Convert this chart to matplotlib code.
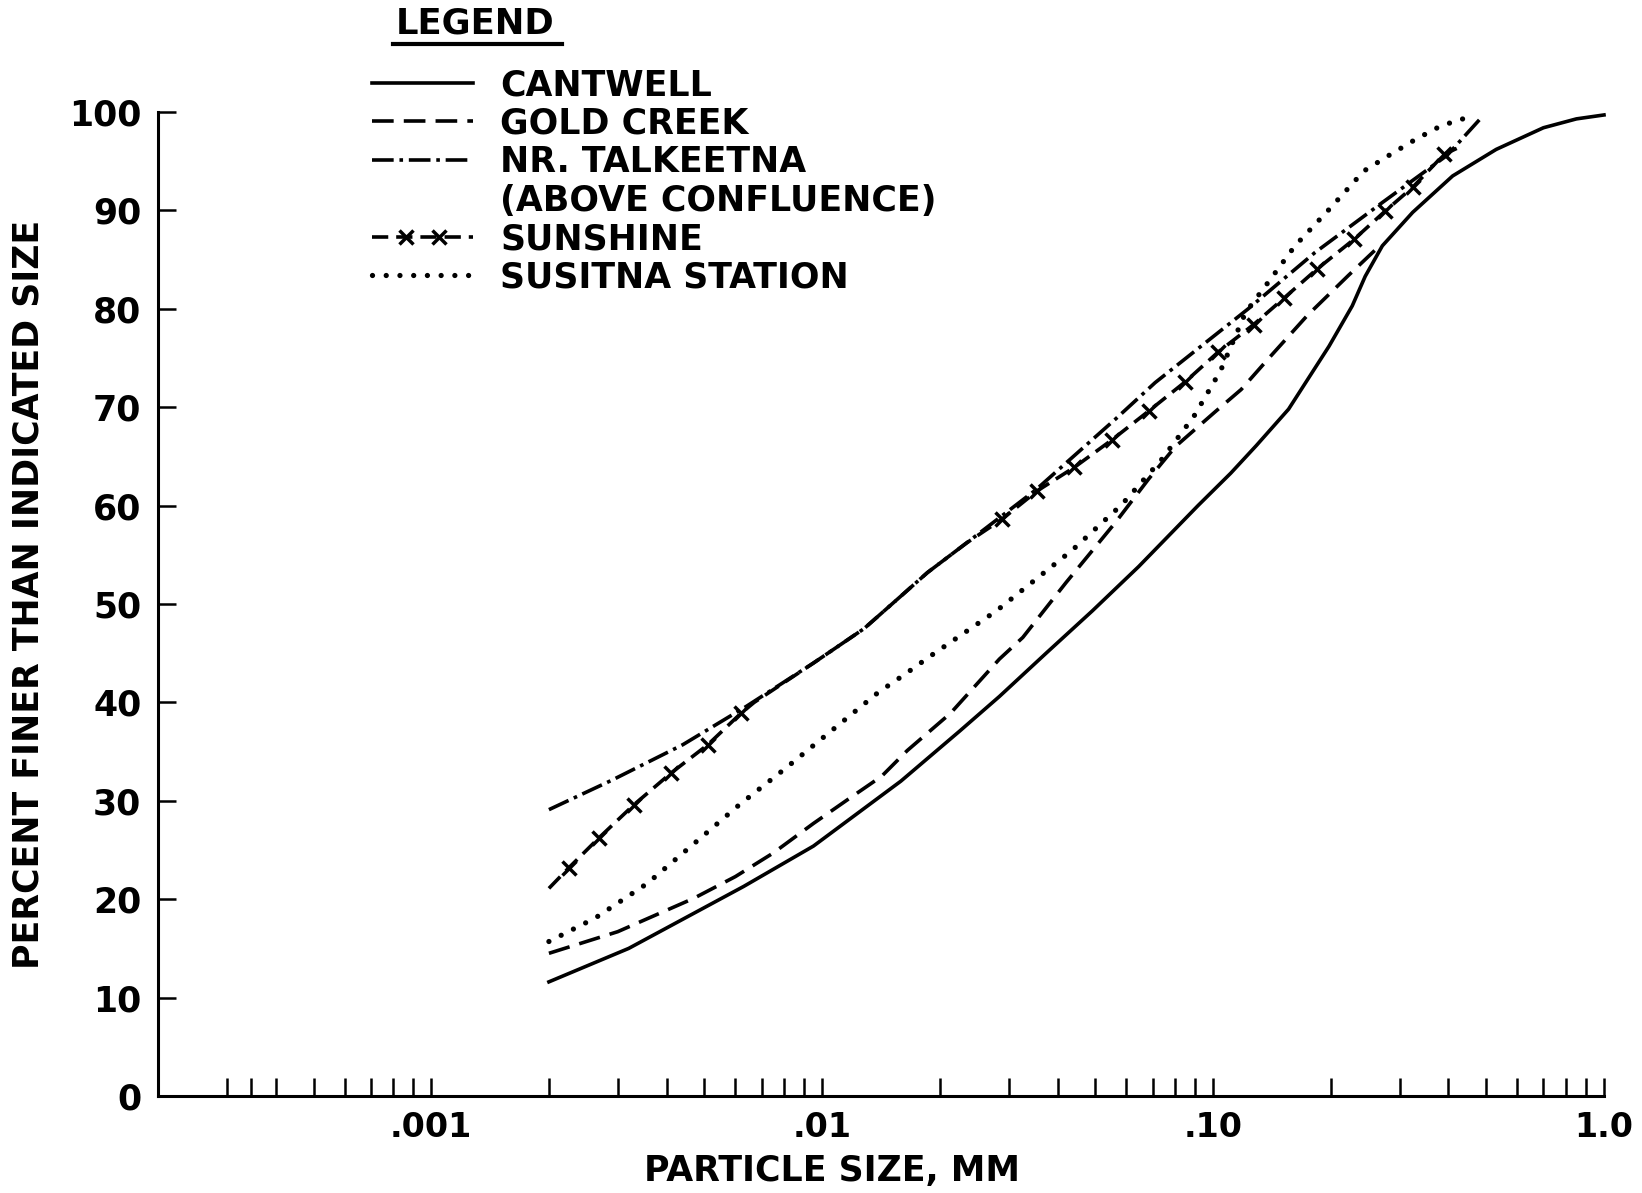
import matplotlib
matplotlib.use("Agg")
import numpy as np
import matplotlib.pyplot as plt
from matplotlib.lines import Line2D
from matplotlib.legend_handler import HandlerLine2D
from matplotlib.ticker import NullFormatter

# Particle size (mm) vs percent finer
cantwell_x = [0.002, 0.0032, 0.0063, 0.0095, 0.0159, 0.0225, 0.0284, 0.0374, 0.0491, 0.0645,
              0.0915, 0.111, 0.129, 0.156, 0.198, 0.227, 0.245, 0.271, 0.324, 0.41,
              0.53, 0.70, 0.85, 1.0]
cantwell_y = [11.6, 15.0, 21.3, 25.4, 32.0, 37.1, 40.6, 45.0, 49.3, 53.8,
              60.0, 63.3, 66.1, 69.8, 76.2, 80.3, 83.3, 86.4, 89.8, 93.5,
              96.2, 98.4, 99.3, 99.7]

gold_x = [0.002, 0.003, 0.0047, 0.006, 0.0075, 0.0095, 0.0116, 0.0142, 0.0165, 0.0213,
          0.0284, 0.0326, 0.0421, 0.0563, 0.0684, 0.0801, 0.101, 0.118, 0.139, 0.174,
          0.222, 0.27]
gold_y = [14.5, 16.7, 20.1, 22.3, 24.7, 27.7, 30.1, 32.5, 35.1, 38.9,
          44.4, 46.6, 52.2, 58.3, 62.7, 66.0, 69.5, 71.8, 75.0, 79.3,
          83.4, 86.6]

talk_x = [0.002, 0.0029, 0.0044, 0.0064, 0.0095, 0.0128, 0.0159, 0.0186, 0.0234, 0.0352,
          0.0472, 0.0563, 0.0711, 0.123, 0.182, 0.271, 0.397, 0.49]
talk_y = [29.1, 32.1, 35.7, 39.6, 44.0, 47.5, 50.8, 53.2, 56.2, 61.6,
          66.1, 68.8, 72.5, 80.0, 85.7, 90.8, 95.6, 99.6]

sun_x = [0.002, 0.00225, 0.00268, 0.0033, 0.0041, 0.0051, 0.0062, 0.0067, 0.0095, 0.0128,
         0.0159, 0.0186, 0.0234, 0.0288, 0.0355, 0.0442, 0.0552, 0.0684, 0.085, 0.103,
         0.127, 0.152, 0.184, 0.23, 0.275, 0.325, 0.39, 0.42]
sun_y = [21.1, 23.2, 26.2, 29.6, 32.8, 35.7, 38.9, 40.0, 44.0, 47.5,
         50.8, 53.2, 56.2, 58.6, 61.5, 63.9, 66.7, 69.6, 72.6, 75.6,
         78.4, 81.1, 84.0, 87.1, 89.9, 92.4, 95.7, 96.3]
sun_marked = [0, 1, 1, 1, 1, 1, 1, 0, 0, 0,
              0, 0, 0, 1, 1, 1, 1, 1, 1, 1,
              1, 1, 1, 1, 1, 1, 1, 0]

sus_x = [0.002, 0.00263, 0.00357, 0.00475, 0.00614, 0.008, 0.0104, 0.0139, 0.0162, 0.0189,
         0.0279, 0.0437, 0.0584, 0.0739, 0.0894, 0.101, 0.105, 0.121, 0.139, 0.162,
         0.197, 0.243, 0.282, 0.329, 0.383, 0.46]
sus_y = [15.7, 18.1, 21.6, 25.8, 29.6, 33.2, 36.9, 41.0, 42.8, 44.7,
         49.3, 55.5, 60.1, 64.7, 69.1, 72.7, 73.9, 79.6, 82.8, 86.4,
         90.0, 94.0, 95.6, 97.2, 98.6, 99.6]

legend_labels = ["CANTWELL", "GOLD CREEK", "NR. TALKEETNA", "(ABOVE CONFLUENCE)",
                 "SUNSHINE", "SUSITNA STATION"]
x_major = [0.001, 0.01, 0.1, 1.0]
x_major_labels = [".001", ".01", ".10", "1.0"]
x_minor = [m * d for d in (0.0001, 0.001, 0.01, 0.1) for m in range(2, 10) if m * d > 0.00021]
x_minor.append(0.000345)  # stray tick drawn on the original axis
y_ticks = list(range(0, 101, 10))


class XDashHandler(HandlerLine2D):
    # full-length line with two x marks inside, like "--x--x--"
    def create_artists(self, legend, orig_handle, xdescent, ydescent, width, height,
                       fontsize, trans):
        xs = np.linspace(-xdescent, -xdescent + width, 4)
        ys = np.full_like(xs, (height - ydescent) / 2)
        line = Line2D(xs, ys)
        self.update_prop(line, orig_handle, legend)
        line.set_markevery([1, 2])
        line.set_transform(trans)
        return [line]


plt.rcParams['font.family'] = ['DejaVu Sans']
plt.rcParams['font.weight'] = 'bold'

W, H = 1642, 1193
fig = plt.figure(figsize=(W / 100, H / 100), dpi=100)
ax = fig.add_axes([158 / W, 1 - 1096 / H, 1446 / W, 984 / H])

lw = 2.6
l_cant, = ax.plot(cantwell_x, cantwell_y, color='black', lw=lw, clip_on=False)
l_gold, = ax.plot(gold_x, gold_y, color='black', lw=lw, linestyle=(0, (6, 2.8)))
l_talk, = ax.plot(talk_x, talk_y, color='black', lw=lw, linestyle=(0, (6, 1.6, 1.0, 1.6)))
mark_idx = [i for i, m in enumerate(sun_marked) if m]
l_sun, = ax.plot(sun_x, sun_y, color='black', lw=lw, linestyle=(0, (4.5, 2.2)),
                 marker='x', markersize=10, markeredgewidth=2.5, markevery=mark_idx)
l_sus, = ax.plot(sus_x, sus_y, color='black', lw=3.8, linestyle=(0, (0.001, 2.6)),
                 dash_capstyle='round')

ax.set_xscale('log')
ax.set_xlim(0.0002, 1.0)
ax.set_ylim(0, 100)
for s in ('top', 'right'):
    ax.spines[s].set_visible(False)
for s in ('left', 'bottom'):
    ax.spines[s].set_linewidth(2.2)

ax.set_xticks(x_major, x_major_labels)
ax.set_xticks(x_minor, minor=True)
ax.xaxis.set_minor_formatter(NullFormatter())
ax.set_yticks(y_ticks)
ax.tick_params(axis='x', which='both', direction='in', length=13, width=1.8, pad=11, labelsize=24)
ax.tick_params(axis='y', direction='in', length=13, width=1.8, pad=12, labelsize=25)

fig.text(832 / W, 1 - 1171 / H, "PARTICLE SIZE, MM", ha='center', va='center', fontsize=25)
fig.text(29 / W, 1 - 594 / H, "PERCENT FINER THAN INDICATED SIZE", ha='center', va='center',
         rotation=90, fontsize=25)

handles = [l_cant, l_gold, l_talk, Line2D([], [], linestyle='none'), l_sun, l_sus]
ax.legend(handles, legend_labels, loc='upper left', bbox_to_anchor=(372 / W, 1 - 68 / H),
          bbox_transform=fig.transFigure, frameon=False, fontsize=25, handlelength=2.9,
          handletextpad=0.8, labelspacing=0.13, borderpad=0, borderaxespad=0,
          handler_map={l_sun: XDashHandler()})

fig.text(396 / W, 1 - 23 / H, "LEGEND", ha='left', va='center', fontsize=25.5)
fig.add_artist(Line2D([393 / W, 562 / W], [1 - 44 / H, 1 - 44 / H], color='black', lw=3,
                      transform=fig.transFigure))

fig.savefig("out.png", dpi=100)
